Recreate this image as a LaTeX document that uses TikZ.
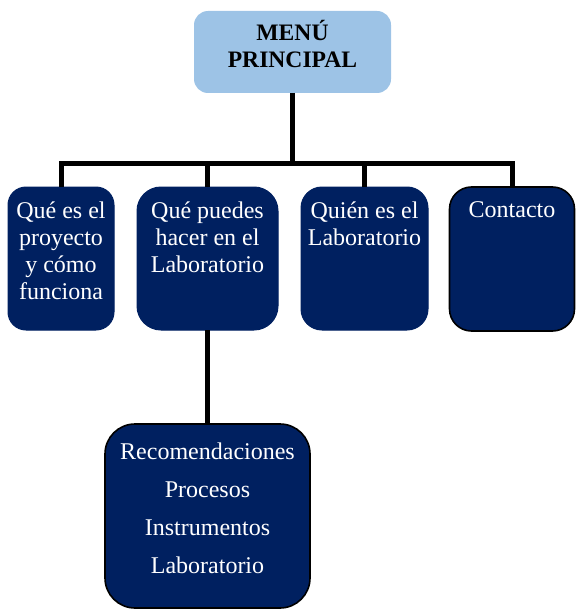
\documentclass[tikz,border=0pt]{standalone}
\usepackage{fontspec}
\setmainfont{Liberation Serif}
\usepackage{xcolor}
\usetikzlibrary{positioning}
\definecolor{azulmarino}{RGB}{0,32,96}
\definecolor{celeste}{RGB}{157,195,230}

\begin{document}
\begin{tikzpicture}[x=0.5pt, y=-0.5pt, node distance=7pt]
    \tikzstyle{titulo} = [rectangle, fill=celeste, anchor=north west, outer sep=0pt, inner sep=0pt]
    \tikzstyle{seccion} = [rectangle, fill=azulmarino, draw=azulmarino, line width=0.5pt, anchor=north west, outer sep=0pt, inner sep=0pt]
    \tikzstyle{borde} = [draw=black, line width=0.8pt]
    \tikzstyle{texto} = [text=white, align=center, inner sep=0pt, font=\fontsize{12}{13.6}\selectfont]
    \tikzstyle{conector} = [line width=2.5pt, black, line join=miter]

    \useasboundingbox (0,0) rectangle (575,610);

    % Cajas del menu
    \node (menu) [titulo, rounded corners=7pt, minimum width=98.5pt, minimum height=41pt] at (194,11) {};
    \node (proyecto) [seccion, rounded corners=9pt, minimum width=53pt, minimum height=71.5pt] at (8,187) {};
    \node (puedes) [seccion, rounded corners=12pt, minimum width=70.5pt, minimum height=71.5pt] at (137,187) {};
    \node (quien) [seccion, rounded corners=10.5pt, minimum width=63.5pt, minimum height=71.5pt] at (301,187) {};
    \node (contacto) [seccion, borde, rounded corners=11pt, minimum width=62.5pt, minimum height=72pt] at (449.5,187) {};
    \node (lista) [seccion, borde, rounded corners=15pt, minimum width=102.5pt, minimum height=92pt] at (105,424) {};

    % Textos, arriba en cada caja
    \node (menu-t) [texto, text=black, font=\fontsize{11.8}{13.2}\selectfont\bfseries, below=4.5pt of menu.north] {MENÚ\\PRINCIPAL};
    \node (proyecto-t) [texto, below=of proyecto.north] {Qué es el\\proyecto\\y cómo\\funciona};
    \node (puedes-t) [texto, below=of puedes.north] {Qué puedes\\hacer en el\\Laboratorio};
    \node (quien-t) [texto, below=of quien.north] {Quién es el\\Laboratorio};
    \node (contacto-t) [texto, below=of contacto.north] {Contacto};
    \node (lista-t) [texto, font=\fontsize{12}{19}\selectfont, below=9pt of lista.north] {Recomendaciones\\Procesos\\Instrumentos\\Laboratorio};

    % Conectores
    \coordinate (barra) at (292.5,163);
    \draw[conector] (menu.south) -- (barra);
    \draw[conector] (proyecto.north) |- (barra) -| (contacto.north);
    \draw[conector] (puedes.north) -- (puedes.north |- barra);
    \draw[conector] (quien.north) -- (quien.north |- barra);
    \draw[conector] (puedes.south) -- (lista.north);
\end{tikzpicture}
\end{document}
